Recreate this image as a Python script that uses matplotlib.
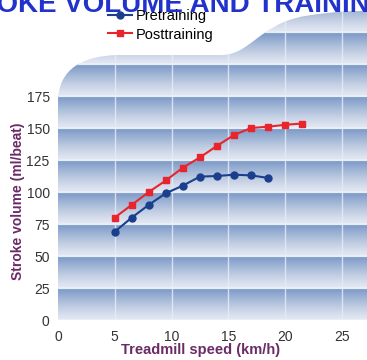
import numpy as np
import matplotlib
matplotlib.use('Agg')
import matplotlib.pyplot as plt
from matplotlib.path import Path
from matplotlib.patches import PathPatch

plt.rcParams['font.family'] = ['Liberation Sans', 'DejaVu Sans']

# data
pre_speed = [5, 6.5, 8, 9.5, 11, 12.5, 14, 15.5, 17, 18.5]
pre_sv = [69, 80, 90, 99, 105, 112, 112.5, 113.5, 113, 111]
post_speed = [5, 6.5, 8, 9.5, 11, 12.5, 14, 15.5, 17, 18.5, 20, 21.5]
post_sv = [80, 90, 100, 109, 119, 127, 136, 144.5, 150, 151, 152.5, 153.5]
x_ticks = [0, 5, 10, 15, 20, 25]
y_ticks = [0, 25, 50, 75, 100, 125, 150, 175]

W, H = 367, 360
fig = plt.figure(figsize=(W / 100, H / 100), dpi=100)
L, B = 58, 320  # axes origin in pixels (from top)
ax = fig.add_axes([L / W, (H - B) / H, (W - L) / W, B / H])
ymax = B / 1.28
xmax = (W - L) / 11.35
ax.set_xlim(0, xmax)
ax.set_ylim(0, ymax)

# wavy top outline, in pixels, turned into axes fractions
def p(px, py):
    return ((px - L) / (W - L), (B - py) / B)

verts = [p(58, 320), p(58, 102),
         p(58, 68), p(84, 56), p(117, 55),
         p(218, 55),
         p(250, 57), p(258, 24), p(305, 16),
         p(335, 11), p(355, 11), p(367, 11),
         p(367, 320), p(58, 320)]
codes = [Path.MOVETO, Path.LINETO,
         Path.CURVE4, Path.CURVE4, Path.CURVE4,
         Path.LINETO,
         Path.CURVE4, Path.CURVE4, Path.CURVE4,
         Path.CURVE4, Path.CURVE4, Path.CURVE4,
         Path.LINETO, Path.CLOSEPOLY]
shape = PathPatch(Path(verts, codes), transform=ax.transAxes,
                  facecolor='none', edgecolor='none')
ax.add_patch(shape)

# banded gradient background
ys = np.linspace(0, ymax, 800)
t = (ys % 25) / 25.0
dark = np.array([120, 151, 197]) / 255
light = np.array([228, 232, 242]) / 255
rows = light[None, :] + (dark - light)[None, :] * (t[:, None] ** 1.2)
img = np.repeat(rows[:, None, :], 2, axis=1)
bg = ax.imshow(img, extent=[0, xmax, 0, ymax], origin='lower',
               aspect='auto', interpolation='bilinear', zorder=0)
bg.set_clip_path(shape)

for yv in range(0, 250, 25):
    ln = ax.axhline(yv, color='#e8eef7', lw=1.6, zorder=1)
    ln.set_clip_path(shape)
for xv in x_ticks[1:]:
    ln = ax.axvline(xv, color='#e8eef7', lw=1.0, alpha=0.8, zorder=1)
    ln.set_clip_path(shape)

pre_line, = ax.plot(pre_speed, pre_sv, color='#1b3f8c', lw=1.5,
                    marker='o', markersize=5, label='Pretraining', zorder=3)
post_line, = ax.plot(post_speed, post_sv, color='#e8242c', lw=1.5,
                     marker='s', markersize=5, label='Posttraining', zorder=3)

for s in ax.spines.values():
    s.set_visible(False)
ax.set_xticks(x_ticks)
ax.set_yticks(y_ticks)
ax.tick_params(length=0, labelsize=10, colors='#333333')
ax.tick_params(axis='x', pad=7)
ax.tick_params(axis='y', pad=6)

fig.legend(handles=[pre_line, post_line], loc='upper left',
           bbox_to_anchor=(98 / W, 1 + 1 / H), frameon=False,
           fontsize=10.5, handlelength=1.6, handletextpad=0.3,
           labelspacing=0.3, borderpad=0.2)

fig.text(166 / W, 1 - 12 / H, 'STROKE VOLUME AND TRAINING', ha='center',
         va='baseline', fontsize=20, fontweight='bold', color='#2233cc')
fig.text(18 / W, 1 - 201 / H, 'Stroke volume (ml/beat)', rotation=90,
         ha='center', va='center', fontsize=10, fontweight='bold',
         color='#6b2b67')
fig.text(201 / W, 1 - 350 / H, 'Treadmill speed (km/h)', ha='center',
         va='center', fontsize=10.5, fontweight='bold', color='#6b2b67')

fig.savefig('out.png', dpi=100)
